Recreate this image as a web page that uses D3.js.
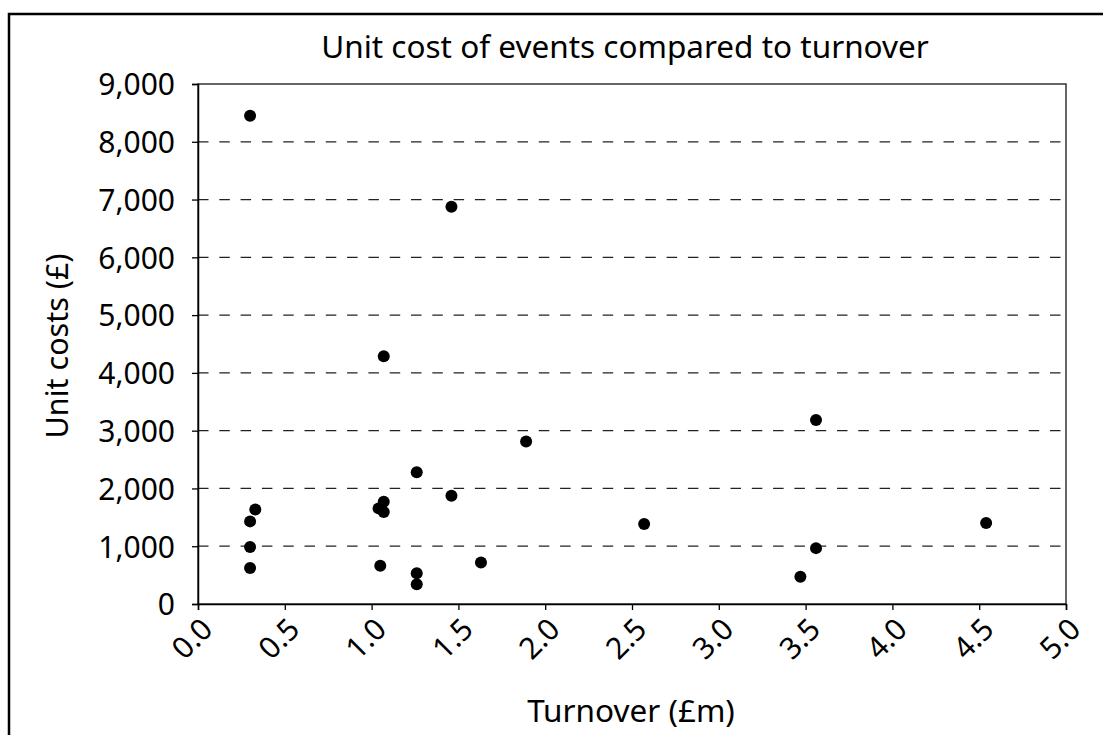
<!DOCTYPE html>
<html>
<head>
<meta charset="utf-8">
<script src="https://cdn.jsdelivr.net/npm/d3@7"></script>
<style>
  body { margin: 0; background: #fff; }
  text { font-family: "Noto Sans", "Open Sans", sans-serif; fill: #000; }
</style>
</head>
<body>
<div id="chart"></div>
<script>
// turnover (£m) and unit cost (£) for each event
var turnover = [0.30, 0.30, 0.30, 0.33, 0.30, 1.05, 1.04, 1.07, 1.07, 1.07, 1.26, 1.26, 1.26,
                1.46, 1.46, 1.63, 1.89, 2.57, 3.47, 3.56, 3.56, 4.54];
var unitCost = [8450, 1430, 985, 1635, 625, 662, 1655, 1771, 1591, 4290, 2279, 534, 343,
                1875, 6877, 719, 2811, 1383, 471, 3185, 967, 1400];
var xTicks = [0, 0.5, 1, 1.5, 2, 2.5, 3, 3.5, 4, 4.5, 5];
var yTicks = [0, 1000, 2000, 3000, 4000, 5000, 6000, 7000, 8000, 9000];
var title = "Unit cost of events compared to turnover",
    xTitle = "Turnover (£m)",
    yTitle = "Unit costs (£)";

var width = 1103, height = 735;
var plot = {left: 198, top: 84, right: 1066, bottom: 604};

var svg = d3.select("#chart").append("svg")
    .attr("width", width)
    .attr("height", height);

// outer frame, only left/top edges fall inside the picture
svg.append("rect")
    .attr("x", 9).attr("y", 14)
    .attr("width", width + 20).attr("height", height + 20)
    .attr("fill", "none")
    .attr("stroke", "#000")
    .attr("stroke-width", 2.5);

var x = d3.scaleLinear().domain([0, 5]).range([plot.left, plot.right]);
var y = d3.scaleLinear().domain([0, 9000]).range([plot.bottom, plot.top]);

// dashed gridlines
svg.append("g")
  .selectAll("line")
  .data(yTicks.filter(function(d){ return d > 0 && d < 9000; }))
  .enter().append("line")
    .attr("x1", plot.left).attr("x2", plot.right)
    .attr("y1", function(d){ return y(d); })
    .attr("y2", function(d){ return y(d); })
    .attr("stroke", "#222")
    .attr("stroke-width", 1.3)
    .attr("stroke-dasharray", "10.5,10.8");

// plot border
svg.append("rect")
    .attr("x", plot.left).attr("y", plot.top)
    .attr("width", plot.right - plot.left)
    .attr("height", plot.bottom - plot.top)
    .attr("fill", "none")
    .attr("stroke", "#333")
    .attr("stroke-width", 1.5);

// y axis
var yAxis = svg.append("g")
    .attr("transform", "translate(" + plot.left + ",0)")
    .call(d3.axisLeft(y).tickValues(yTicks).tickSize(6).tickPadding(17)
      .tickFormat(d3.format(",")));
yAxis.select(".domain").attr("stroke", "#000").attr("stroke-width", 1.5);
yAxis.selectAll(".tick line").attr("stroke", "#000").attr("stroke-width", 1.3);
yAxis.selectAll(".tick text")
    .style("font-size", "30px")
    .attr("dy", "0.36em");

// x axis
var xAxis = svg.append("g")
    .attr("transform", "translate(0," + plot.bottom + ")")
    .call(d3.axisBottom(x).tickValues(xTicks).tickSize(6).tickFormat(d3.format(".1f")));
xAxis.select(".domain").attr("stroke", "#000").attr("stroke-width", 1.5);
xAxis.selectAll(".tick line").attr("stroke", "#000").attr("stroke-width", 1.3);
xAxis.selectAll(".tick text")
    .style("font-size", "30px")
    .attr("text-anchor", "end")
    .attr("x", 0).attr("y", 0).attr("dy", 0)
    .attr("transform", "translate(16,27) rotate(-45)");

// points
svg.append("g")
  .selectAll("circle")
  .data(turnover)
  .enter().append("circle")
    .attr("cx", function(d){ return x(d); })
    .attr("cy", function(d, i){ return y(unitCost[i]); })
    .attr("r", 6)
    .attr("fill", "#000");

// titles
svg.append("text")
    .attr("x", 625).attr("y", 58)
    .attr("text-anchor", "middle")
    .style("font-size", "31.5px")
    .text(title);

svg.append("text")
    .attr("x", 631).attr("y", 722)
    .attr("text-anchor", "middle")
    .style("font-size", "31.5px")
    .text(xTitle);

svg.append("text")
    .attr("transform", "translate(68,346) rotate(-90)")
    .attr("text-anchor", "middle")
    .style("font-size", "30.5px")
    .text(yTitle);
</script>
</body>
</html>
